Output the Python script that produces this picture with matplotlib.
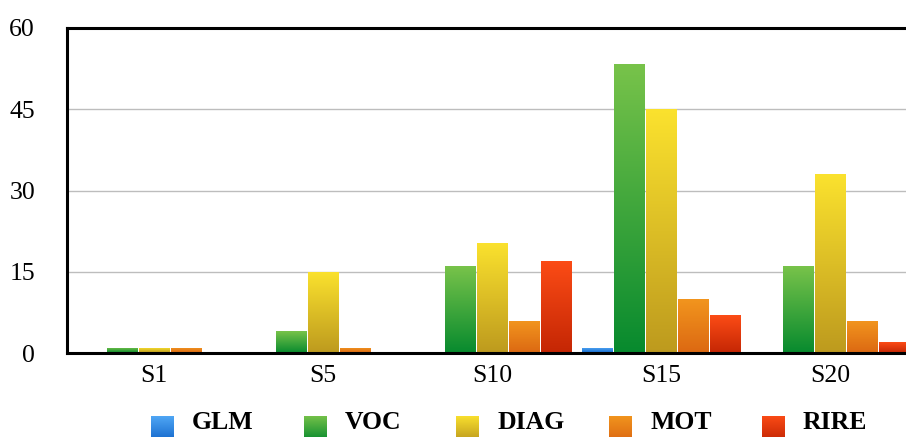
import numpy as np
import matplotlib
matplotlib.use("Agg")
import matplotlib.pyplot as plt
from matplotlib.colors import LinearSegmentedColormap

categories = ["S1", "S5", "S10", "S15", "S20"]
series_names = ["GLM", "VOC", "DIAG", "MOT", "RIRE"]
glm = [0, 0, 0, 1, 0]
voc = [1, 4, 16, 53.3, 16]
diag = [1, 15, 20.4, 45, 33]
mot = [1, 1, 6, 10, 6]
rire = [0, 0, 17, 7, 2]
y_ticks = [0, 15, 30, 45, 60]

series_values = [glm, voc, diag, mot, rire]
# (top colour, bottom colour)
grad_colors = [
    ("#52a9f6", "#1468cc"),
    ("#78c34a", "#078a2e"),
    ("#fbe22e", "#bd9a1e"),
    ("#f2961e", "#dc6812"),
    ("#fc4c16", "#c42604"),
]

plt.rcParams["font.family"] = ["Liberation Serif", "DejaVu Serif"]

W, H = 906, 437
fig = plt.figure(figsize=(W / 100, H / 100), dpi=100)
ax = fig.add_axes([67 / W, (H - 353) / H, 1 - 67 / W, (353 - 28) / H])

x = np.arange(len(categories))
step = 0.189
width = 0.178
grad = np.linspace(0, 1, 256).reshape(-1, 1)

for i, (name, vals) in enumerate(zip(series_names, series_values)):
    top, bot = grad_colors[i]
    cmap = LinearSegmentedColormap.from_list(name, [bot, top])
    bars = ax.bar(x + (i - 2) * step, vals, width, color=top, label=name, zorder=3)
    for b in bars:
        h = b.get_height()
        if h <= 0:
            continue
        x0 = b.get_x()
        im = ax.imshow(grad, cmap=cmap, origin="lower", aspect="auto",
                       extent=[x0, x0 + b.get_width(), 0, h], zorder=4)
        im.set_clip_path(b)

ax.set_xlim(-0.515, 4.45)
ax.set_ylim(0, 60)
ax.set_yticks(y_ticks)
ax.set_xticks(x)
ax.set_xticklabels(categories)
ax.tick_params(axis="both", length=0, labelsize=18.5)
ax.tick_params(axis="y", pad=23)
ax.tick_params(axis="x", pad=9)
ax.yaxis.grid(True, color="#bdbdbd", linewidth=1.0, zorder=0)
ax.set_axisbelow(True)
for s in ["left", "bottom", "top"]:
    ax.spines[s].set_linewidth(2.2)
    ax.spines[s].set_color("black")
    ax.spines[s].set_zorder(6)
ax.spines["right"].set_visible(False)

# legend drawn manually with gradient squares
for i, name in enumerate(series_names):
    top, bot = grad_colors[i]
    cmap = LinearSegmentedColormap.from_list(name + "_leg", [bot, top])
    px = 151 + i * 152.7
    lax = fig.add_axes([px / W, -4 / H, 23 / W, 25 / H])
    lax.imshow(grad, cmap=cmap, origin="lower", aspect="auto")
    lax.set_axis_off()
    fig.text((px + 41) / W, (H - 422.5) / H, name, fontsize=18.5,
             fontweight="bold", va="center", ha="left")

fig.savefig("out.png", dpi=100)
